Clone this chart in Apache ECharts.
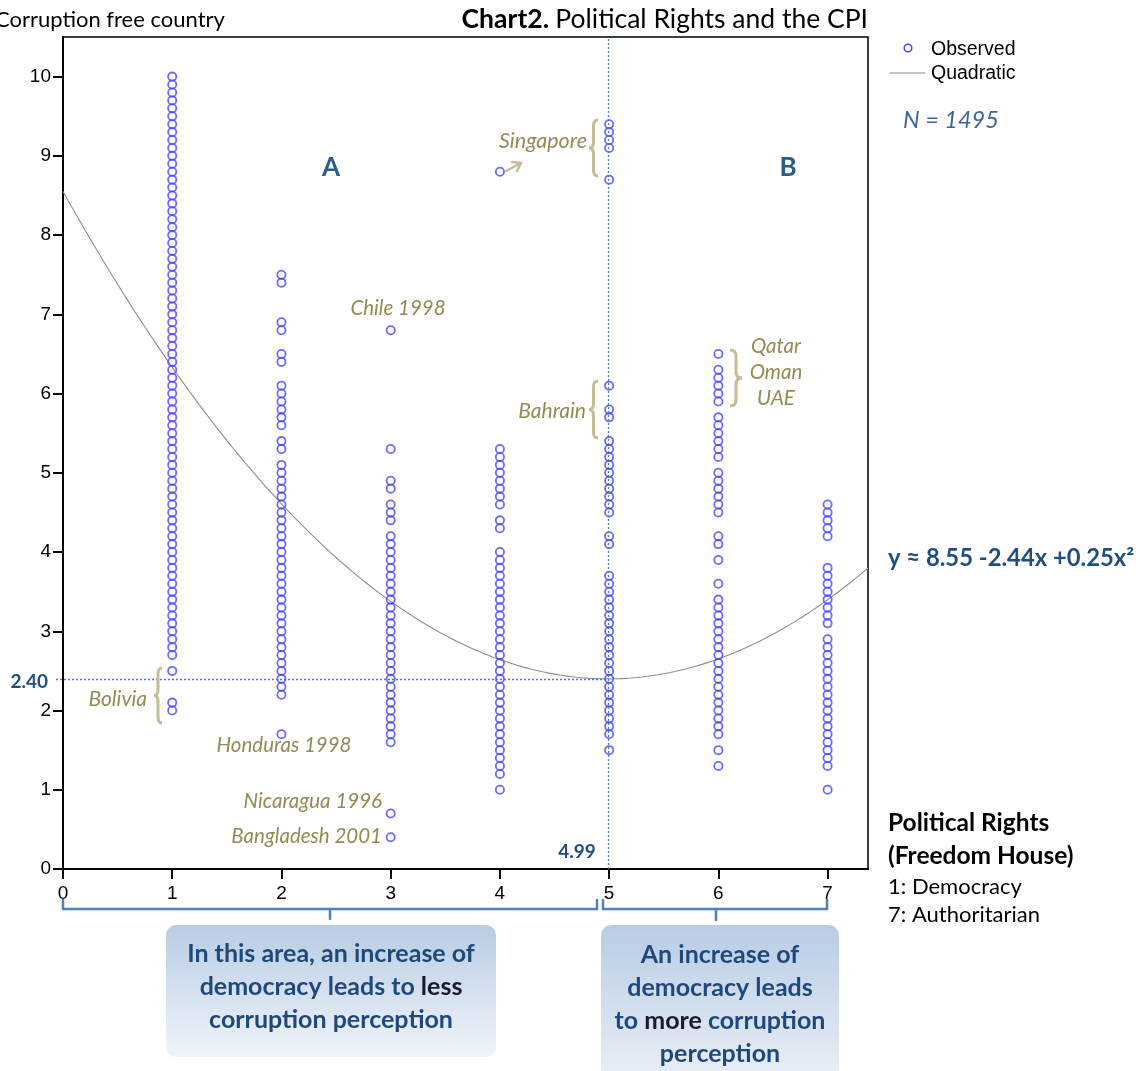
<!DOCTYPE html>
<html><head><meta charset="utf-8">
<script src="https://cdn.jsdelivr.net/npm/echarts@6/dist/echarts.min.js"></script>
<style>html,body{margin:0;padding:0;background:#fff}#c{width:1141px;height:1071px}</style>
</head><body><div id="c"></div>
<script>
// Political rights categories (x) and CPI values (y) observed per category
const xTicks = [0,1,2,3,4,5,6,7];
const yTicks = [0,1,2,3,4,5,6,7,8,9,10];
const col1 = [10.0,9.9,9.8,9.7,9.6,9.5,9.4,9.3,9.2,9.1,9.0,8.9,8.8,8.7,8.6,8.5,8.4,8.3,8.2,8.1,8.0,7.9,7.8,7.7,7.6,7.5,7.4,7.3,7.2,7.1,7.0,6.9,6.8,6.7,6.6,6.5,6.4,6.3,6.2,6.1,6.0,5.9,5.8,5.7,5.6,5.5,5.4,5.3,5.2,5.1,5.0,4.9,4.8,4.7,4.6,4.5,4.4,4.3,4.2,4.1,4.0,3.9,3.8,3.7,3.6,3.5,3.4,3.3,3.2,3.1,3.0,2.9,2.8,2.7,2.5,2.1,2.0];
const col2 = [7.5,7.4,6.9,6.8,6.5,6.4,6.1,6.0,5.9,5.8,5.7,5.6,5.4,5.3,5.1,5.0,4.9,4.8,4.7,4.6,4.5,4.4,4.3,4.2,4.1,4.0,3.9,3.8,3.7,3.6,3.5,3.4,3.3,3.2,3.1,3.0,2.9,2.8,2.7,2.6,2.5,2.4,2.3,2.2,1.7];
const col3 = [6.8,5.3,4.9,4.8,4.6,4.5,4.4,4.2,4.1,4.0,3.9,3.8,3.7,3.6,3.5,3.4,3.3,3.2,3.1,3.0,2.9,2.8,2.7,2.6,2.5,2.4,2.3,2.2,2.1,2.0,1.9,1.8,1.7,1.6,0.7,0.4];
const col4 = [8.8,5.3,5.2,5.1,5.0,4.9,4.8,4.7,4.6,4.4,4.3,4.0,3.9,3.8,3.7,3.6,3.5,3.4,3.3,3.2,3.1,3.0,2.9,2.8,2.7,2.6,2.5,2.4,2.3,2.2,2.1,2.0,1.9,1.8,1.7,1.6,1.5,1.4,1.3,1.2,1.0];
const col5 = [9.4,9.3,9.2,9.1,8.7,6.1,5.8,5.7,5.4,5.3,5.2,5.1,5.0,4.9,4.8,4.7,4.6,4.5,4.2,4.1,3.7,3.6,3.5,3.4,3.3,3.2,3.1,3.0,2.9,2.8,2.7,2.6,2.5,2.4,2.3,2.2,2.1,2.0,1.9,1.8,1.7,1.5];
const col6 = [6.5,6.3,6.2,6.1,6.0,5.9,5.7,5.6,5.5,5.4,5.3,5.2,5.0,4.9,4.8,4.7,4.6,4.5,4.2,4.1,3.9,3.6,3.4,3.3,3.2,3.1,3.0,2.9,2.8,2.7,2.6,2.5,2.4,2.3,2.2,2.1,2.0,1.9,1.8,1.7,1.5,1.3];
const col7 = [4.6,4.5,4.4,4.3,4.2,3.8,3.7,3.6,3.5,3.4,3.3,3.2,3.1,2.9,2.8,2.7,2.6,2.5,2.4,2.3,2.2,2.1,2.0,1.9,1.8,1.7,1.6,1.5,1.4,1.3,1.0];
const columns = [col1,col2,col3,col4,col5,col6,col7];
// Quadratic fit (vertex form: minimum 2.40 at x = 4.99)
const fitVertexX = 4.99, fitVertexY = 2.40, fitA = 0.247;
const xMax = 7.37, yMax = 10.5;

const observed = [];
columns.forEach((col, i) => col.forEach(v => observed.push([i + 1, v])));
const curve = [];
for (let i = 0; i <= 148; i++) {
  const x = Math.min(xMax, i * 0.05);
  curve.push([x, fitVertexY + fitA * (x - fitVertexX) * (x - fitVertexX)]);
}

const chart = echarts.init(document.getElementById('c'));
const CAL = 'Lato, "Noto Sans", sans-serif';
const ARIAL = '"Liberation Sans", Arial, sans-serif';
const OLIVE = '#948a54', TAN = '#c4bd97', BLUE = '#4f81bd', DBLUE = '#1f4e85';
const PT = '#4646ff';

function txt(x, y, text, o) {
  return { type: 'text', x, y, z: 50, style: Object.assign({ text, fill: OLIVE, fontFamily: CAL, fontSize: 20.5, fontStyle: 'italic', textAlign: 'left', textVerticalAlign: 'middle' }, o || {}) };
}
function ln(x1, y1, x2, y2, color, w) {
  return { type: 'line', z: 40, shape: { x1, y1, x2, y2 }, style: { stroke: color, lineWidth: w, lineCap: 'round' } };
}
function bez(x1, y1, cx, cy, x2, y2, color, w) {
  return { type: 'bezierCurve', z: 40, shape: { x1, y1, x2, y2, cpx1: cx, cpy1: cy }, style: { stroke: color, lineWidth: w, fill: null } };
}
function brace(tipX, endX, y0, y1) {
  const mid = (tipX + endX) / 2, ym = (y0 + y1) / 2, r = 6, w = 3;
  return [
    bez(endX, y0, mid, y0, mid, y0 + r, TAN, w),
    ln(mid, y0 + r, mid, ym - r, TAN, w),
    bez(mid, ym - r, mid, ym, tipX, ym, TAN, w),
    bez(tipX, ym, mid, ym, mid, ym + r, TAN, w),
    ln(mid, ym + r, mid, y1 - r, TAN, w),
    bez(mid, y1 - r, mid, y1, endX, y1, TAN, w)
  ];
}
const boxRich = {
  a: { fontFamily: CAL, fontSize: 25, fontWeight: 'bold', fill: '#1f497d', lineHeight: 33 },
  k: { fontFamily: CAL, fontSize: 25, fontWeight: 'bold', fill: '#1a1a2a', lineHeight: 33 }
};

const graphics = [
  txt(-5, 20, 'Corruption free country', { fill: '#000', fontStyle: 'normal', fontSize: 22 }),
  { type: 'text', x: 868, y: 19, z: 50, style: { text: '{b|Chart2. }{n|Political Rights and the CPI}', textAlign: 'right', textVerticalAlign: 'middle',
      rich: { b: { fontFamily: CAL, fontSize: 26.5, fontWeight: 'bold', fill: '#000' }, n: { fontFamily: CAL, fontSize: 26.5, fill: '#000' } } } },
  { type: 'circle', z: 50, shape: { cx: 908, cy: 48, r: 3.8 }, style: { fill: 'none', stroke: PT, lineWidth: 1.5 } },
  txt(931, 50, 'Observed', { fill: '#000', fontStyle: 'normal', fontFamily: ARIAL, fontSize: 19.5 }),
  ln(890, 73, 925, 73, '#8c8c8c', 1.1),
  txt(931, 74, 'Quadratic', { fill: '#000', fontStyle: 'normal', fontFamily: ARIAL, fontSize: 19.5 }),
  txt(903, 120, 'N = 1495', { fill: '#3b6699', fontSize: 23.5 }),
  txt(331, 168, 'A', { fill: '#2b5a8d', fontStyle: 'normal', fontWeight: 'bold', fontSize: 26, textAlign: 'center' }),
  txt(788, 168, 'B', { fill: '#2b5a8d', fontStyle: 'normal', fontWeight: 'bold', fontSize: 26, textAlign: 'center' }),
  txt(888, 558, 'y ≈ 8.55 -2.44x +0.25x²', { fill: DBLUE, fontStyle: 'normal', fontWeight: 'bold', fontSize: 23.8 }),
  txt(888, 823, 'Political Rights', { fill: '#000', fontStyle: 'normal', fontWeight: 'bold', fontSize: 24.5 }),
  txt(888, 856, '(Freedom House)', { fill: '#000', fontStyle: 'normal', fontWeight: 'bold', fontSize: 24.5 }),
  txt(888, 887, '1: Democracy', { fill: '#000', fontStyle: 'normal', fontSize: 22 }),
  txt(888, 915, '7: Authoritarian', { fill: '#000', fontStyle: 'normal', fontSize: 22 }),
  txt(48, 682, '2.40', { fill: DBLUE, fontStyle: 'normal', fontWeight: 'bold', fontSize: 19, textAlign: 'right' }),
  txt(577, 852, '4.99', { fill: DBLUE, fontStyle: 'normal', fontWeight: 'bold', fontSize: 19, textAlign: 'center' }),
  txt(587, 141, 'Singapore', { textAlign: 'right', fontSize: 21.5 }),
  txt(398, 308, 'Chile 1998', { textAlign: 'center' }),
  txt(586, 411, 'Bahrain', { textAlign: 'right', fontSize: 21 }),
  txt(147, 699, 'Bolivia', { textAlign: 'right', fontSize: 21 }),
  txt(284, 745, 'Honduras 1998', { textAlign: 'center' }),
  txt(382, 801, 'Nicaragua 1996', { textAlign: 'right' }),
  txt(382, 836, 'Bangladesh 2001', { textAlign: 'right' }),
  txt(776, 346, 'Qatar', { textAlign: 'center' }),
  txt(776, 372, 'Oman', { textAlign: 'center' }),
  txt(776, 398, 'UAE', { textAlign: 'center' }),
  ...brace(589, 598, 120, 176),
  ...brace(589, 598, 381, 438),
  ...brace(154, 162, 668, 723),
  ...brace(742, 730, 350, 406),
  ln(506, 171, 521, 163, TAN, 2.5),
  ln(521, 163, 512, 162, TAN, 2.5),
  ln(521, 163, 517, 171, TAN, 2.5),
  ln(63, 909, 597, 909, BLUE, 2.5), ln(63, 909, 63, 900, BLUE, 2.5), ln(597, 909, 597, 900, BLUE, 2.5), ln(330, 909, 330, 919, BLUE, 2.5),
  ln(603, 909, 827, 909, BLUE, 2.5), ln(603, 909, 603, 900, BLUE, 2.5), ln(827, 909, 827, 900, BLUE, 2.5), ln(716, 909, 716, 920, BLUE, 2.5),
  { type: 'rect', z: 30, shape: { x: 166, y: 925, width: 330, height: 132, r: 10 },
    style: { fill: new echarts.graphic.LinearGradient(0, 0, 0, 1, [{ offset: 0, color: '#b8cce4' }, { offset: 1, color: '#f0f4fa' }]) } },
  { type: 'rect', z: 30, shape: { x: 601, y: 925, width: 238, height: 170, r: 10 },
    style: { fill: new echarts.graphic.LinearGradient(0, 0, 0, 1, [{ offset: 0, color: '#b8cce4' }, { offset: 1, color: '#eef2f8' }]) } },
  { type: 'text', x: 331, y: 987, z: 50, style: { text: '{a|In this area, an increase of}\n{a|democracy leads to }{k|less}\n{a|corruption perception}',
      textAlign: 'center', textVerticalAlign: 'middle', rich: boxRich } },
  { type: 'text', x: 720, y: 1004, z: 50, style: { text: '{a|An increase of}\n{a|democracy leads}\n{a|to }{k|more}{a| corruption}\n{a|perception}',
      textAlign: 'center', textVerticalAlign: 'middle', rich: boxRich } }
];

chart.setOption({
  animation: false,
  backgroundColor: '#fff',
  grid: { left: 63, top: 37, right: 273, bottom: 202, show: true, borderColor: '#000', borderWidth: 1.5, containLabel: false },
  xAxis: {
    type: 'value', min: 0, max: xMax, interval: 1,
    axisLine: { show: true, lineStyle: { color: '#000', width: 2 } },
    axisTick: { show: true, length: 10, lineStyle: { color: '#000', width: 2 }, customValues: xTicks },
    axisLabel: { customValues: xTicks, margin: 15, fontFamily: ARIAL, fontSize: 19, color: '#000' },
    splitLine: { show: false }
  },
  yAxis: {
    type: 'value', min: 0, max: yMax, interval: 1,
    axisLine: { show: true, lineStyle: { color: '#000', width: 2 } },
    axisTick: { show: true, length: 10, lineStyle: { color: '#000', width: 2 }, customValues: yTicks },
    axisLabel: { customValues: yTicks, margin: 12, fontFamily: ARIAL, fontSize: 19, color: '#000' },
    splitLine: { show: false }
  },
  series: [
    {
      name: 'Observed', type: 'scatter', data: observed, symbol: 'circle', symbolSize: 8.2, z: 3,
      itemStyle: { color: 'rgba(0,0,0,0)', borderColor: PT, borderWidth: 1.8 },
      markLine: {
        silent: true, symbol: 'none', label: { show: false },
        lineStyle: { color: '#4a7cc0', type: [2, 2], width: 1.3 },
        data: [
          [{ coord: [0, fitVertexY], x: 56 }, { coord: [fitVertexX, fitVertexY] }],
          [{ coord: [fitVertexX, 0] }, { coord: [fitVertexX, yMax] }]
        ]
      }
    },
    {
      name: 'Quadratic', type: 'line', data: curve, showSymbol: false, symbol: 'none', smooth: false, z: 2,
      lineStyle: { color: '#8c8c8c', width: 1.1 }, itemStyle: { color: '#8c8c8c' }
    }
  ],
  graphic: graphics
});
</script></body></html>
